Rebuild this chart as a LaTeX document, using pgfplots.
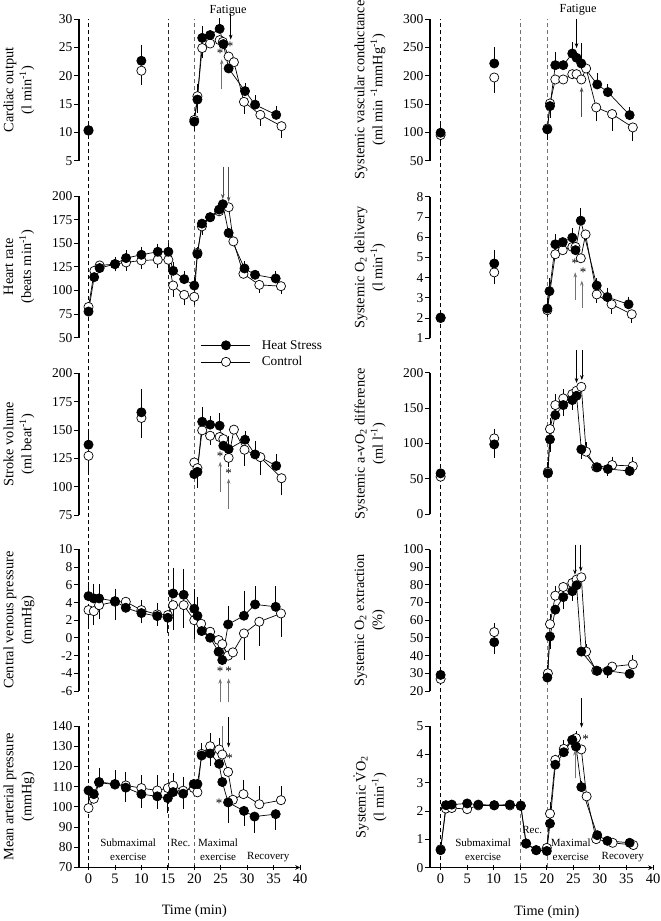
\documentclass[border=0pt]{standalone}
\usepackage{fontspec}
\setmainfont{Liberation Serif}
\usepackage{pgfplots}
\pgfplotsset{compat=1.18}
\usetikzlibrary{arrows.meta}

\pgfplotsset{
  panel/.style={scale only axis, anchor=south west, height=141.5pt,
    axis y line=left, axis line style={-, line width=1.1pt},
    tick align=outside, major tick length=5pt, tick style={line width=0.9pt, black},
    clip=false, unbounded coords=jump,
    /pgf/number format/assume math mode=true,
    yticklabel style={font=\fontsize{13.5}{15}\selectfont, inner sep=1.5pt},
    xticklabel style={font=\fontsize{14.5}{16}\selectfont},
    ylabel style={anchor=center, align=center, font=\fontsize{14.3}{18}\selectfont}},
  lcol/.style={panel, width=221pt, xmin=-1.8, xmax=40,
    ylabel style={at={(axis description cs:-0.2715,0.5)}}},
  rcol/.style={panel, width=223pt, xmin=-2, xmax=40,
    ylabel style={at={(axis description cs:-0.269,0.5)}}},
  upper/.style={axis x line=none},
  bot/.style={axis x line=bottom, xtick={0,5,...,40}, xlabel={Time (min)},
    xlabel style={at={(axis cs:20,#1)}, yshift=-44pt, anchor=center,
      font=\fontsize{14.3}{16}\selectfont}},
  errs/.style={/pgfplots/error bars/y dir=both, /pgfplots/error bars/y explicit,
    /pgfplots/error bars/error bar style={line width=0.7pt},
    /pgfplots/error bars/error mark options={mark size=4.5pt, line width=0.8pt}},
  hs/.style={errs, black, line width=0.7pt, mark=*, mark size=4.6pt,
    mark options={solid, fill=black}},
  ct/.style={errs, black, line width=0.7pt, mark=*, mark size=4.6pt,
    mark options={solid, fill=white}},
  vline/.style={line width=0.6pt, dash pattern=on 4pt off 3pt},
}
\tikzset{ann/.style={-{Stealth[length=5pt,width=3.6pt]}, line width=0.6pt},
  star/.style={font=\fontsize{13}{13}\selectfont, inner sep=0pt},
  phase/.style={font=\fontsize{11}{14}\selectfont, align=center, inner sep=0pt}}

\begin{document}
\begin{tikzpicture}
\useasboundingbox (0,0) rectangle (661pt,921pt);

% dashed phase lines, left and right columns
\begin{axis}[scale only axis, anchor=south west, at={(79pt,53.5pt)}, width=221pt, height=848.5pt,
  xmin=-1.8, xmax=40, ymin=0, ymax=1, hide axis]
\addplot[vline, black] coordinates {(0,0) (0,1)};
\addplot[vline, black!85] coordinates {(15,0) (15,1)};
\addplot[vline, black!60] coordinates {(20,0) (20,1)};
\end{axis}
\begin{axis}[scale only axis, anchor=south west, at={(430pt,53.5pt)}, width=223pt, height=848.5pt,
  xmin=-2, xmax=40, ymin=0, ymax=1, hide axis]
\addplot[vline, black] coordinates {(0,0) (0,1)};
\addplot[vline, black!55] coordinates {(15,0) (15,1)};
\addplot[vline, black!55] coordinates {(20,0) (20,1)};
\end{axis}

% ---------- left column ----------
% cardiac output
\begin{axis}[lcol, upper, at={(79pt,760.3pt)}, ymin=5, ymax=30, ytick={5,10,...,30},
  ylabel={Cardiac output\\(l min\textsuperscript{-1})}]
\addplot[ct] coordinates {(0,10.3) (5,nan) (10,20.9) -= (0,1.7) (15,nan)
  (20,12.2) -= (0,1.0) (20.6,16.4) += (0,1.4) (21.5,24.9) -= (0,0.9) (23,25.7) (24.8,26.3)
  (25.4,26.0) (26.5,23.4) (27.5,22.4) (29.4,15.4) -= (0,1.3) (32.5,13.1) -= (0,1.2)
  (36.5,11.1) -= (0,1.3)};
\addplot[hs] coordinates {(0,10.4) +- (0,0.6) (5,nan) (10,22.65) += (0,2.0) (15,nan)
  (20,11.9) +- (0,0.8) (20.6,15.8) -= (0,1.6) (21.5,26.7) += (0,1.3) (23,27.2)
  (24.8,28.3) += (0,1.1) (25.5,25.6) (26.5,21.3) (29.6,17.3) += (0,0.7)
  (31.5,14.9) += (0,0.9) (35.5,13.1) += (0,0.8)};
\node[font=\fontsize{12.3}{14}\selectfont] at (axis cs:26.4,31.55) {Fatigue};
\draw[ann] (axis cs:26.9,30.9) -- (axis cs:26.9,26.4);
\draw[ann, black!55] (axis cs:25.2,17.6) -- (axis cs:25.2,22.9);
\node[star] at (axis cs:26.8,25.2) {*};
\node[star] at (axis cs:24.9,24.0) {*};
\end{axis}

% heart rate
\begin{axis}[lcol, upper, at={(79pt,583.3pt)}, ymin=50, ymax=200, ytick={50,75,...,200},
  ylabel={Heart rate\\(beats min\textsuperscript{-1})},
  legend style={draw=none, fill=none, at={(0.538,0.012)}, anchor=north west,
    font=\fontsize{13.3}{15}\selectfont, row sep=2pt, legend cell align=left,
    /tikz/every odd column/.append style={column sep=9pt}},
  legend image code/.code={\draw[mark repeat=2, mark phase=2, #1]
    plot coordinates {(0pt,0pt) (24.5pt,0pt) (49pt,0pt)};}]
\addplot[ct, forget plot] coordinates {(0,82.6) (1.1,120.9) (2.1,126.6) (5,128.0) -= (0,3)
  (7.1,129.8) -= (0,4) (10,131.9) -= (0,4) (13.1,132.6) -= (0,4) (15.1,132.6) -= (0,4)
  (16,105.3) -= (0,7) (18.1,95.4) -= (0,6) (20,93.3) -= (0,4) (20.6,140) (21.45,168) -= (0,4)
  (23,177.7) (24.7,184) (26.5,188.3) (27.4,152.1) (29.3,117.7) (32.3,106) -= (0,4)
  (36.4,104.6) -= (0,3)};
\addplot[hs, forget plot] coordinates {(0,77.7) (1.07,114.2) (2.1,123.8) (5,128.0) += (0,3)
  (7.1,134.4) += (0,4) (10,137.9) += (0,4) (13.1,141.1) += (0,3.5) (15.1,141.1) += (0,4)
  (16,120.9) += (0,5) (18.1,112.1) += (0,3.5) (20,105.3) += (0,4) (20.6,138.7) += (0,3)
  (21.45,170.9) (23,177.7) (24.7,185.8) += (0,3) (25.4,191.5) (26.5,161.0)
  (29.5,123.4) += (0,3) (31.5,116.7) (35.4,112.8) += (0,3)};
\addlegendimage{black, line width=0.7pt, mark=*, mark size=4.6pt, mark options={solid, fill=black}}
\addlegendentry{Heat Stress}
\addlegendimage{black, line width=0.7pt, mark=*, mark size=4.6pt, mark options={solid, fill=white}}
\addlegendentry{Control}
\draw[ann, black!70] (axis cs:25.4,231) -- (axis cs:25.4,197);
\draw[ann, black!70] (axis cs:26.5,231) -- (axis cs:26.5,194);
\end{axis}

% stroke volume
\begin{axis}[lcol, upper, at={(79pt,406pt)}, ymin=75, ymax=200, ytick={75,100,...,200},
  ylabel={Stroke volume\\(ml beat\textsuperscript{-1})}]
\addplot[ct] coordinates {(0,127.3) -= (0,10.9) (5,nan) (10,160.7) -= (0,13.9) (15,nan)
  (20,121.4) (20.6,116.4) -= (0,13) (21.5,149.8) (23,145) -= (0,4) (24.8,143.9)
  (25.5,142.1) (26.5,125.5) -= (0,4) (27.5,150.4) (29.5,132.6) -= (0,10)
  (32.5,126.1) -= (0,12.1) (36.5,107.5) -= (0,11.2)};
\addplot[hs] coordinates {(0,137.1) += (0,8.2) (5,nan) (10,165.7) += (0,16.3) (15,nan)
  (20,111.1) += (0,5) (20.6,113.1) -= (0,10) (21.5,157.4) += (0,9.2) (23,154.8) += (0,4)
  (24.8,153.9) += (0,6.8) (25.5,136.2) (26.5,133.2) += (0,8) (29.6,141.5) += (0,3.8)
  (31.5,128.5) += (0,8) (35.5,118.4) += (0,6.8)};
\node[star] at (axis cs:24.9,126.5) {*};
\node[star] at (axis cs:26.5,112.0) {*};
\draw[ann, black!55] (axis cs:24.9,95.4) -- (axis cs:24.9,122.0);
\draw[ann, black!55] (axis cs:26.5,80.3) -- (axis cs:26.5,107.0);
\end{axis}

% central venous pressure
\begin{axis}[lcol, upper, at={(79pt,230pt)}, ymin=-6, ymax=10, ytick={-6,-4,...,10},
  ylabel={Central venous pressure\\(mmHg)}]
\addplot[ct] coordinates {(0,3.15) -= (0,1.17) (1,3.03) -= (0,1.03) (2,3.71) -= (0,1.1)
  (5,4.09) -= (0,1.5) (7.05,4.09) (10,3.15) -= (0,1.0) (13,2.66) -= (0,0.8) (15,2.58) -= (0,1.2)
  (16,3.71) -= (0,2.26) (18,3.71) -= (0,2.1) (20,2.0) -= (0,1.6) (21.3,1.6) (23,0.7)
  (24.6,-0.24) (25.3,-0.7) (26.4,-2.0) (27.3,-1.63) (29.4,0.51) -= (0,2.5)
  (32.3,1.83) -= (0,2.2) (36.4,2.77) -= (0,2.1)};
\addplot[hs] coordinates {(0,4.73) += (0,1.07) (1,4.47) += (0,1.13) (2,4.47) += (0,1.1)
  (5,4.16) += (0,0.9) (7.05,3.41) (10,2.81) += (0,1.0) (13,2.47) += (0,1.0) (15,2.28) -= (0,1.2)
  (16,5.03) += (0,2.4) (18,4.88) += (0,2.4) (20,3.3) += (0,1.7) (20.6,2.5) += (0,1.6)
  (21.4,0.78) (23,0.02) (24.6,-1.56) (25.3,-2.5) (26.4,1.53) += (0,1.62)
  (29.4,2.51) += (0,2.33) (31.5,3.79) += (0,1.54) (35.4,3.52) += (0,1.81)};
\node[star] at (axis cs:24.9,-3.8) {*};
\node[star] at (axis cs:26.5,-3.8) {*};
\draw[ann, black!55] (axis cs:24.9,-7.3) -- (axis cs:24.9,-4.6);
\draw[ann, black!55] (axis cs:26.5,-7.3) -- (axis cs:26.5,-4.6);
\end{axis}

% mean arterial pressure
\begin{axis}[lcol, bot=70, at={(79pt,53.5pt)}, ymin=70, ymax=140, ytick={70,80,...,140},
  ylabel={Mean arterial pressure\\(mmHg)}]
\addplot[ct] coordinates {(0,99.4) += (0,3.5) (1,104.0) (2,112) (5,111) (7.05,110.6) += (0,4.5)
  (10,109.3) += (0,4) (13,108.1) += (0,5.4) (15,109.3) (16,110.5) += (0,3.8)
  (17.9,108) += (0,4.3) (19.9,109.3) (20.6,107.2) (21.4,126.2) (23,130) += (0,4.2)
  (24.7,128.4) += (0,3.6) (25.3,125.9) (26.4,117.3) (27.3,103.5) (29.3,106.3) += (0,4.7)
  (32.3,101.3) += (0,6.8) (36.4,103.3) += (0,4.8)};
\addplot[hs] coordinates {(0,108.1) (1,106.3) (2,112.3) += (0,4.5) (5,111.3) += (0,4.7)
  (7.05,109.5) -= (0,4.8) (10,106.3) -= (0,4.5) (13,105.2) -= (0,4) (15,104.3) -= (0,4.9)
  (16,107.3) (17.9,106.5) -= (0,5.2) (19.9,111.3) (20.6,111.3) (21.4,125.4) += (0,4.1)
  (23,126.4) -= (0,4) (24.7,121.3) (25.3,112.3) (26.4,102.2) -= (0,7.8)
  (29.4,98.0) -= (0,5.3) (31.4,95.2) -= (0,5.8) (35.4,96.4) -= (0,5.4)};
\node[star] at (axis cs:26.7,124.0) {*};
\node[star] at (axis cs:24.7,101.6) {*};
\draw[ann] (axis cs:26.5,144.3) -- (axis cs:26.5,129.4);
\draw[black!55, line width=0.6pt] (axis cs:25.3,139.9) -- (axis cs:25.3,122.4);
\node[phase] at (axis cs:7.5,78.6) {Submaximal\\exercise};
\node[phase] at (axis cs:17.4,82.1) {Rec.};
\node[phase] at (axis cs:24.5,78.6) {Maximal\\exercise};
\node[phase] at (axis cs:34.0,75.1) {Recovery};
\end{axis}

% ---------- right column ----------
% systemic vascular conductance
\begin{axis}[rcol, upper, at={(430pt,760.3pt)}, ymin=50, ymax=300, ytick={50,100,...,300},
  ylabel={Systemic vascular conductance\\(ml min \textsuperscript{-1}mmHg\textsuperscript{-1})}]
\addplot[ct] coordinates {(0,95.3) (5,nan) (10.1,197) -= (0,19.4) (15,nan) (20.1,107)
  (20.6,151.2) -= (0,17.7) (21.6,193.5) (23.1,193.5) (24.8,202.9) (25.6,202.9) (26.5,193.5)
  (27.4,212.9) (29.3,144.1) -= (0,16.5) (32.3,132.4) -= (0,21.2) (36.2,108.8) -= (0,16.4)};
\addplot[hs] coordinates {(0,99.4) +- (0,10) (5,nan) (10.1,221.8) += (0,20.6) (15,nan)
  (20.1,105.3) -= (0,10.3) (20.6,146.5) -= (0,12) (21.6,218.8) += (0,14.7) (23.1,218.8)
  (24.8,239.4) += (0,11.8) (25.6,231.8) (26.5,221.8) += (0,28) (29.5,184.7) += (0,11.8)
  (31.5,171.2) += (0,6.4) (35.6,130.6) += (0,5.9)};
\node[font=\fontsize{12.3}{14}\selectfont] at (axis cs:25.9,316.5) {Fatigue};
\draw[ann] (axis cs:25.6,301) -- (axis cs:25.6,248.9);
\draw[ann, black!70] (axis cs:26.55,127.2) -- (axis cs:26.55,180);
\end{axis}

% systemic O2 delivery
\begin{axis}[rcol, upper, at={(430pt,582.7pt)}, ymin=1, ymax=8, ytick={1,2,...,8},
  ylabel={Systemic O\textsubscript{2} delivery\\(l min\textsuperscript{-1})}]
\addplot[ct] coordinates {(0,2.0) (5,nan) (10.1,4.26) -= (0,0.37) (15,nan)
  (20.1,2.39) -= (0,0.13) (21.6,5.16) (23.0,5.36) (24.8,5.52) (25.4,5.52) (26.4,4.96)
  (27.3,6.14) (29.4,3.17) -= (0,0.21) (32.2,2.68) -= (0,0.26) (36.0,2.19) -= (0,0.21)};
\addplot[hs] coordinates {(0,2.03) (5,nan) (10.1,4.70) += (0,0.46) (15,nan)
  (20.1,2.47) += (0,0.29) (20.5,3.33) += (0,0.44) (21.6,5.65) += (0,0.28) (23.0,5.76)
  (24.8,5.98) += (0,0.24) (25.4,5.36) (26.4,6.82) += (0,0.4) (29.4,3.61) += (0,0.16)
  (31.4,3.04) += (0,0.24) (35.4,2.68) += (0,0.16)};
\node[star] at (axis cs:25.3,4.7) {*};
\node[star] at (axis cs:26.85,4.25) {*};
\draw[ann, black!55] (axis cs:25.35,2.87) -- (axis cs:25.35,4.26);
\draw[ann, black!55] (axis cs:26.6,2.48) -- (axis cs:26.6,3.85);
\end{axis}

% systemic a-vO2 difference
\begin{axis}[rcol, upper, at={(430pt,406.7pt)}, ymin=0, ymax=200, ytick={0,50,...,200},
  ylabel={Systemic a-vO\textsubscript{2} difference\\(ml l\textsuperscript{-1})}]
\addplot[ct] coordinates {(0,53.2) (5,nan) (10.1,107.3) += (0,7.1) (15,nan) (20.2,60)
  (20.6,120.5) += (0,8.9) (21.6,154.4) += (0,9.4) (23.1,163.8) += (0,7) (24.8,169.9)
  (25.6,174.6) (26.5,180.2) (27.4,88.5) += (0,7) (29.3,66.4) (32.3,69.6) += (0,5.7)
  (36.2,68.2) += (0,7.1)};
\addplot[hs] coordinates {(0,57.9) (5,nan) (10.1,98.8) -= (0,12.7) (15,nan)
  (20.2,57.9) += (0,9.4) (20.6,105.9) -= (0,11.3) (21.6,140.2) (23.1,154.4) -= (0,9.5)
  (24.8,161.4) -= (0,7) (25.6,167.5) (26.5,91.8) -= (0,6.6) (29.5,66.4)
  (31.5,64.0) -= (0,3) (35.6,61.2)};
\draw[ann] (axis cs:25.6,232) -- (axis cs:25.6,185.5);
\draw[ann] (axis cs:26.6,232) -- (axis cs:26.6,189.7);
\end{axis}

% systemic O2 extraction
\begin{axis}[rcol, upper, at={(430pt,230pt)}, ymin=20, ymax=100, ytick={20,30,...,100},
  ylabel={Systemic O\textsubscript{2} extraction\\(\%)}]
\addplot[ct] coordinates {(0,26.8) (5,nan) (10.1,53.3) += (0,2.6) (15,nan) (20.2,30.0)
  (20.6,57.8) += (0,3.1) (21.6,73.9) += (0,2.8) (23.1,78.8) (24.8,81.1) (25.6,83.0)
  (26.5,84.3) (27.4,42.3) += (0,1.5) (29.3,31.5) (32.3,33.8) (36.2,35.1) += (0,2.5)};
\addplot[hs] coordinates {(0,29.1) (5,nan) (10.1,47.6) -= (0,4.3) (15,nan)
  (20.1,27.6) += (0,4.3) (20.6,50.8) -= (0,4.3) (21.6,66.0) (23.1,73.1) -= (0,4.3)
  (24.8,76.4) -= (0,2.9) (25.6,79.8) (26.5,42.3) (29.5,31.4) (31.5,31.4) -= (0,1.4)
  (35.6,29.7)};
\draw[ann] (axis cs:25.3,102.8) -- (axis cs:25.3,85.8);
\draw[ann] (axis cs:26.4,102.8) -- (axis cs:26.4,87.5);
\end{axis}

% systemic VO2
\begin{axis}[rcol, bot=0, at={(430pt,53.3pt)}, ymin=0, ymax=5, ytick={0,1,...,5},
  ylabel={Systemic \.{V}O\textsubscript{2}\\(l min\textsuperscript{-1})}]
\addplot[ct] coordinates {(0,0.65) (1,2.09) (2.1,2.11) (5,2.07) (7.1,2.2) (10.1,2.2)
  (13.05,2.2) (15.1,2.2) (16.1,0.85) (18,0.62) (20,0.70) (20.6,1.91) += (0,0.24)
  (21.6,3.81) (23.2,4.2) += (0,0.14) (24.8,4.5) (25.5,4.58) += (0,0.1) (26.5,4.18)
  (27.5,2.52) (29.3,1.01) (32.4,0.88) (36.3,0.80)};
\addplot[hs] coordinates {(0,0.62) += (0,0.12) (1,2.21) (2.1,2.23) (5,2.27) (7.1,2.23)
  (10.1,2.21) (13.05,2.23) (15.1,2.18) += (0,0.1) (16.1,0.86) (18,0.62) (20,0.59)
  (20.6,1.56) (21.6,3.64) += (0,0.2) (23.2,4.08) += (0,0.2) (24.8,4.52) (25.5,4.28) += (0,0.1)
  (26.5,2.85) += (0,0.05) (29.5,1.15) (31.4,0.95) (35.6,0.88)};
\node[star] at (axis cs:27.3,4.55) {*};
\draw[ann] (axis cs:26.55,5.98) -- (axis cs:26.55,4.95);
\draw[ann, black!55] (axis cs:25.3,3.16) -- (axis cs:25.3,4.14);
\node[phase] at (axis cs:8.0,0.62) {Submaximal\\exercise};
\node[phase] at (axis cs:17.25,1.33) {Rec.};
\node[phase] at (axis cs:24.5,0.62) {Maximal\\exercise};
\node[phase] at (axis cs:34.3,0.38) {Recovery};
\end{axis}
\end{tikzpicture}
\end{document}
